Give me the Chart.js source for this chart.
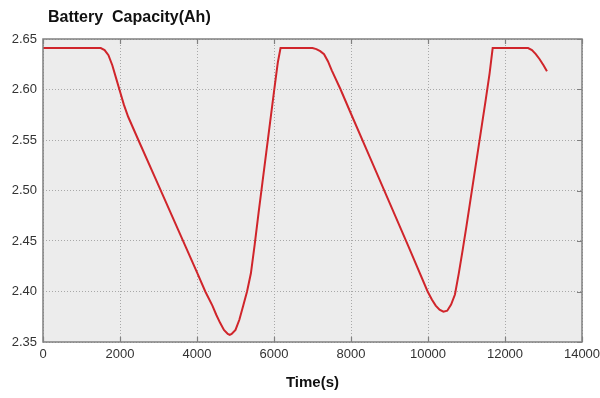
<!DOCTYPE html>
<html>
<head>
<meta charset="utf-8">
<title>Battery Capacity</title>
<script src="https://cdn.jsdelivr.net/npm/chart.js@4/dist/chart.umd.min.js"></script>
<style>
  html, body { margin: 0; padding: 0; background: #fff; }
  #wrap { width: 600px; height: 398px; position: relative; }
</style>
</head>
<body>
<div id="wrap"><canvas id="capacityChart"></canvas></div>
<script>
// Time samples (s) and the matching capacity (Ah)
const timeSec = [
    0, 500, 1000, 1500, 1600, 1700, 1800, 1900, 2000, 2100, 2212,
    2500, 3000, 3500, 4000, 4215, 4400, 4500, 4600, 4700, 4800, 4850, 4900,
    5000, 5100, 5200, 5300, 5400, 5500, 5600, 5700, 5800, 5900, 6000, 6100, 6170,
    6500, 7000, 7100, 7200, 7300, 7400, 7500, 7730, 8000, 8500, 9000, 9500, 9990,
    10100, 10200, 10300, 10400, 10500, 10600, 10700, 10800, 10900, 11000, 11100,
    11200, 11300, 11400, 11500, 11600, 11680,
    12000, 12600, 12700, 12800, 12900, 13000, 13090
];
const capacityAh = [
    2.641, 2.641, 2.641, 2.641, 2.639, 2.634, 2.624, 2.611, 2.598, 2.585, 2.573,
    2.548, 2.505, 2.462, 2.419, 2.400, 2.386, 2.377, 2.369, 2.362, 2.358, 2.357, 2.358,
    2.362, 2.372, 2.386, 2.400, 2.418, 2.447, 2.478, 2.508, 2.538, 2.568, 2.598, 2.627, 2.641,
    2.641, 2.641, 2.640, 2.638, 2.635, 2.628, 2.619, 2.600, 2.576, 2.532, 2.488, 2.444, 2.400,
    2.392, 2.386, 2.382, 2.380, 2.381, 2.387, 2.397, 2.418, 2.441, 2.465, 2.490,
    2.515, 2.540, 2.565, 2.590, 2.616, 2.641,
    2.641, 2.641, 2.639, 2.635, 2.630, 2.624, 2.618
];

const xTicks = [0, 2000, 4000, 6000, 8000, 10000, 12000, 14000];
const yTicks = [2.35, 2.40, 2.45, 2.50, 2.55, 2.60, 2.65];

const points = timeSec.map((t, i) => ({ x: t, y: capacityAh[i] }));

// gray plot background, frame with inward ticks, and the title in the top-left
const plotFrame = {
    id: 'plotFrame',
    beforeDraw(chart) {
        const { ctx, chartArea: a } = chart;
        ctx.save();
        ctx.fillStyle = '#ececec';
        ctx.fillRect(a.left, a.top, a.right - a.left, a.bottom - a.top);
        ctx.restore();
    },
    afterDatasetsDraw(chart) {
        const { ctx, chartArea: a, scales } = chart;
        ctx.save();
        ctx.strokeStyle = '#808080';
        ctx.lineWidth = 1.5;
        ctx.strokeRect(a.left, a.top, a.right - a.left, a.bottom - a.top);
        ctx.lineWidth = 1.2;
        ctx.beginPath();
        xTicks.forEach(v => {
            const px = Math.round(scales.x.getPixelForValue(v)) + 0.5;
            ctx.moveTo(px, a.top); ctx.lineTo(px, a.top + 5);
            ctx.moveTo(px, a.bottom); ctx.lineTo(px, a.bottom - 5);
        });
        yTicks.forEach(v => {
            const py = Math.round(scales.y.getPixelForValue(v)) + 0.5;
            ctx.moveTo(a.right, py); ctx.lineTo(a.right - 5, py);
        });
        ctx.stroke();

        ctx.fillStyle = '#111';
        ctx.font = 'bold 16px "Liberation Sans", Arial, sans-serif';
        ctx.textBaseline = 'middle';
        ctx.fillText('Battery  Capacity(Ah)', a.left + 5, 18);
        ctx.restore();
    }
};

new Chart(document.getElementById('capacityChart'), {
    type: 'line',
    data: {
        datasets: [{
            data: points,
            borderColor: '#d0252b',
            borderWidth: 2,
            pointRadius: 0,
            tension: 0
        }]
    },
    options: {
        responsive: true,
        maintainAspectRatio: false,
        animation: false,
        layout: { padding: { top: 39, right: 0, left: 0, bottom: 0 } },
        plugins: {
            legend: { display: false },
            tooltip: { enabled: false }
        },
        scales: {
            x: {
                type: 'linear',
                min: 0,
                max: 14000,
                afterFit: s => { s.height = 56; s.paddingRight = 18; },
                afterBuildTicks: s => { s.ticks = xTicks.map(v => ({ value: v })); },
                grid: { color: '#a8a8a8', borderDash: [1, 2], drawTicks: false },
                border: { display: false, dash: [1, 2] },
                ticks: {
                    padding: 5,
                    maxRotation: 0,
                    color: '#333',
                    callback: v => String(v),
                    font: { family: '"Liberation Sans", Arial, sans-serif', size: 13 }
                },
                title: {
                    display: true,
                    text: 'Time(s)',
                    color: '#111',
                    padding: { top: 0, bottom: 6 },
                    font: { family: '"Liberation Sans", Arial, sans-serif', size: 15, weight: 'bold' }
                }
            },
            y: {
                min: 2.35,
                max: 2.65,
                afterFit: s => { s.width = 43; },
                afterBuildTicks: s => { s.ticks = yTicks.map(v => ({ value: v })); },
                grid: { color: '#a8a8a8', drawTicks: false },
                border: { display: false, dash: [1, 2] },
                ticks: {
                    padding: 6,
                    color: '#333',
                    callback: v => Number(v).toFixed(2),
                    font: { family: '"Liberation Sans", Arial, sans-serif', size: 13 }
                }
            }
        }
    },
    plugins: [plotFrame]
});
</script>
</body>
</html>
